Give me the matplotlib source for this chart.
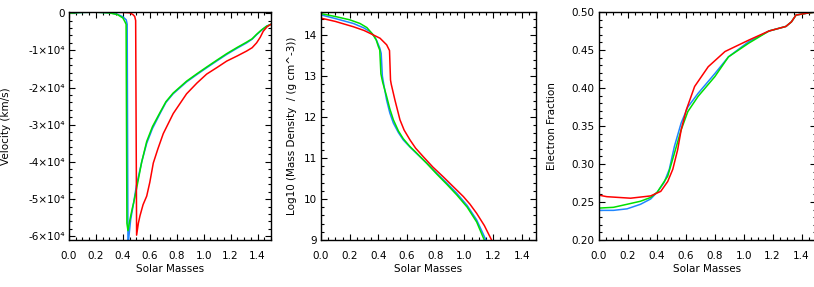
import matplotlib
matplotlib.use('Agg')
import matplotlib.pyplot as plt
from matplotlib.ticker import MultipleLocator, FixedLocator, FixedFormatter

plt.rcParams['font.family'] = 'DejaVu Sans'
plt.rcParams['font.size'] = 7.5

BLUE, GREEN, RED = '#1f86ff', '#00e000', '#ff0000'

# ---- panel 1: velocity (km/s) vs enclosed mass
vel_blue_m = [0.0, 0.1, 0.2, 0.3, 0.36, 0.40, 0.425, 0.432, 0.438, 0.445, 0.458, 0.48, 0.50, 0.54, 0.577,
              0.62, 0.676, 0.72, 0.773, 0.873, 0.95, 1.022, 1.1, 1.171, 1.25, 1.319, 1.36, 1.393, 1.43, 1.468, 1.5]
vel_blue = [0, 200, 250, 100, -300, -1000, -1800, -3000, -63000, -60000, -55500, -51000, -46500, -40000, -35000,
            -31000, -27000, -24000, -21700, -18500, -16500, -14700, -12800, -11100, -9400, -8000, -7000, -5800,
            -4600, -3500, -3000]

vel_green_m = [0.0, 0.1, 0.2, 0.3, 0.36, 0.40, 0.415, 0.424, 0.430, 0.438, 0.45, 0.47, 0.48, 0.50, 0.54, 0.577,
               0.62, 0.676, 0.72, 0.773, 0.873, 0.95, 1.022, 1.1, 1.171, 1.25, 1.319, 1.36, 1.393, 1.43, 1.468, 1.5]
vel_green = [0, 200, 250, 50, -400, -1300, -2300, -3000, -56500, -58500, -56000, -52500, -51000, -47500, -40000,
             -34500, -30500, -26700, -23800, -21500, -18300, -16300, -14500, -12600, -10900, -9200, -7800, -6900,
             -5700, -4500, -3500, -3000]

vel_red_m = [0.0, 0.1, 0.2, 0.3, 0.4, 0.45, 0.475, 0.488, 0.495, 0.502, 0.515, 0.527, 0.55, 0.577, 0.6, 0.626,
             0.66, 0.70, 0.774, 0.873, 0.95, 1.022, 1.1, 1.171, 1.25, 1.319, 1.36, 1.393, 1.42, 1.442, 1.47, 1.5]
vel_red = [200, 250, 250, 250, 200, 100, -400, -900, -2000, -59700, -56500, -54500, -51500, -49200, -45500,
           -40300, -36500, -32400, -27000, -21700, -18800, -16400, -14600, -12900, -11500, -10200, -9300, -8000,
           -6500, -4900, -3700, -3000]

vel_ticks = [0, -10000, -20000, -30000, -40000, -50000, -60000]
vel_ticklabels = ['0', '-1×10⁴', '-2×10⁴', '-3×10⁴', '-4×10⁴', '-5×10⁴', '-6×10⁴']

# ---- panel 2: log10 density
rho_blue_m = [0.0, 0.1, 0.226, 0.3, 0.342, 0.37, 0.389, 0.41, 0.42, 0.428, 0.44, 0.458, 0.48, 0.505, 0.54, 0.574,
              0.62, 0.667, 0.74, 0.807, 0.88, 0.947, 1.02, 1.086, 1.156, 1.17]
rho_blue = [14.49, 14.40, 14.28, 14.17, 14.08, 13.98, 13.86, 13.68, 13.55, 13.0, 12.75, 12.41, 12.10, 11.85,
            11.62, 11.44, 11.27, 11.11, 10.87, 10.63, 10.38, 10.14, 9.84, 9.49, 8.96, 8.85]

rho_green_m = [0.0, 0.1, 0.2, 0.272, 0.32, 0.36, 0.385, 0.40, 0.41, 0.418, 0.43, 0.458, 0.48, 0.505, 0.54, 0.574,
               0.62, 0.667, 0.74, 0.807, 0.88, 0.947, 1.02, 1.086, 1.144, 1.16]
rho_green = [14.52, 14.45, 14.37, 14.28, 14.18, 14.02, 13.88, 13.72, 13.63, 13.05, 12.85, 12.5, 12.2, 11.93,
             11.66, 11.47, 11.28, 11.12, 10.86, 10.61, 10.35, 10.10, 9.80, 9.44, 8.96, 8.85]

rho_red_m = [0.0, 0.1, 0.226, 0.3, 0.342, 0.412, 0.458, 0.478, 0.485, 0.49, 0.516, 0.551, 0.58, 0.621, 0.66,
             0.714, 0.78, 0.853, 0.92, 0.993, 1.04, 1.086, 1.14, 1.19, 1.2]
rho_red = [14.41, 14.33, 14.20, 14.11, 14.04, 13.92, 13.76, 13.62, 12.9, 12.8, 12.41, 11.93, 11.68, 11.44, 11.24,
           11.03, 10.78, 10.54, 10.31, 10.06, 9.87, 9.65, 9.35, 9.0, 8.9]

# ---- panel 3: electron fraction
ye_blue_m = [0.0, 0.1, 0.194, 0.287, 0.357, 0.403, 0.451, 0.486, 0.521, 0.568, 0.614, 0.685, 0.801, 0.895,
             1.035, 1.175, 1.292, 1.33, 1.362, 1.455, 1.5]
ye_blue = [0.239, 0.239, 0.241, 0.247, 0.254, 0.263, 0.276, 0.293, 0.323, 0.354, 0.375, 0.393, 0.419, 0.441,
           0.461, 0.475, 0.481, 0.487, 0.496, 0.499, 0.500]

ye_green_m = [0.0, 0.1, 0.194, 0.287, 0.357, 0.403, 0.475, 0.521, 0.568, 0.614, 0.685, 0.801, 0.895, 1.035,
              1.175, 1.292, 1.33, 1.362, 1.455, 1.5]
ye_green = [0.242, 0.243, 0.247, 0.251, 0.256, 0.263, 0.284, 0.314, 0.345, 0.369, 0.389, 0.415, 0.441, 0.459,
            0.475, 0.481, 0.487, 0.496, 0.499, 0.500]

ye_red_m = [0.0, 0.054, 0.218, 0.357, 0.427, 0.475, 0.51, 0.544, 0.568, 0.603, 0.661, 0.755, 0.871, 1.035,
            1.175, 1.292, 1.33, 1.362, 1.455, 1.5]
ye_red = [0.259, 0.257, 0.255, 0.258, 0.264, 0.277, 0.293, 0.319, 0.345, 0.371, 0.402, 0.428, 0.448, 0.463,
          0.475, 0.481, 0.487, 0.496, 0.499, 0.500]


fig = plt.figure(figsize=(8.14, 2.87), dpi=100)
ax1 = fig.add_axes([69 / 814, 47 / 287, 202 / 814, 228 / 287])
ax2 = fig.add_axes([321 / 814, 47 / 287, 215 / 814, 228 / 287])
ax3 = fig.add_axes([599 / 814, 47 / 287, 217 / 814, 228 / 287])

lw = 1.1
ax1.plot(vel_blue_m, vel_blue, color=BLUE, lw=lw)
ax1.plot(vel_green_m, vel_green, color=GREEN, lw=lw)
ax1.plot(vel_red_m, vel_red, color=RED, lw=lw)
ax1.set_ylim(-61000, 300)
ax1.yaxis.set_major_locator(FixedLocator(vel_ticks))
ax1.yaxis.set_major_formatter(FixedFormatter(vel_ticklabels))
ax1.yaxis.set_minor_locator(MultipleLocator(2000))
ax1.set_ylabel('Velocity (km/s)')
ax1.yaxis.set_label_coords(-58 / 202, 0.5)

ax2.plot(rho_blue_m, rho_blue, color=BLUE, lw=lw)
ax2.plot(rho_green_m, rho_green, color=GREEN, lw=lw)
ax2.plot(rho_red_m, rho_red, color=RED, lw=lw)
ax2.set_ylim(9, 14.56)
ax2.yaxis.set_major_locator(MultipleLocator(1))
ax2.yaxis.set_minor_locator(MultipleLocator(0.2))
ax2.set_ylabel('Log10 (Mass Density  / (g cm^-3))')
ax2.yaxis.set_label_coords(-24 / 215, 0.5)

ax3.plot(ye_blue_m, ye_blue, color=BLUE, lw=lw)
ax3.plot(ye_green_m, ye_green, color=GREEN, lw=lw)
ax3.plot(ye_red_m, ye_red, color=RED, lw=lw)
ax3.set_ylim(0.2, 0.5)
ax3.yaxis.set_major_locator(MultipleLocator(0.05))
ax3.yaxis.set_minor_locator(MultipleLocator(0.01))
ax3.yaxis.set_major_formatter(plt.FormatStrFormatter('%.2f'))
ax3.set_ylabel('Electron Fraction')
ax3.yaxis.set_label_coords(-42 / 217, 0.5)

for ax in (ax1, ax2, ax3):
    ax.set_xlim(0, 1.5)
    ax.xaxis.set_major_locator(MultipleLocator(0.2))
    ax.xaxis.set_minor_locator(MultipleLocator(0.05))
    ax.xaxis.set_major_formatter(plt.FormatStrFormatter('%.1f'))
    ax.set_xlabel('Solar Masses', labelpad=2)
    ax.tick_params(which='both', direction='in', top=True, right=True, labelsize=7.5)
    ax.tick_params(axis='x', which='major', pad=8)
    ax.tick_params(axis='y', which='major', pad=3)
    ax.tick_params(which='major', length=4, width=0.8)
    ax.tick_params(which='minor', length=2, width=0.8)
    for sp in ax.spines.values():
        sp.set_linewidth(1.0)

fig.savefig('out.png', dpi=100)
